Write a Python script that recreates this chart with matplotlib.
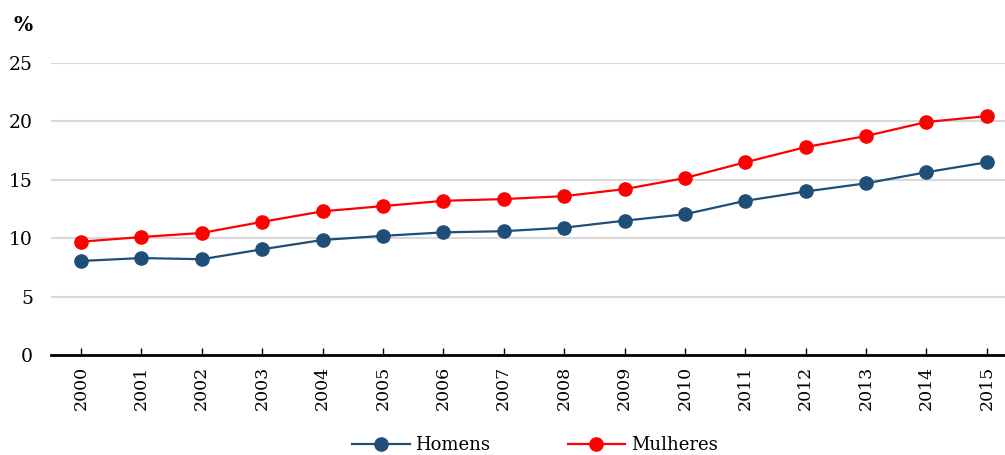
import matplotlib
matplotlib.use("Agg")
import matplotlib.pyplot as plt

years = ["2000", "2001", "2002", "2003", "2004", "2005", "2006", "2007",
         "2008", "2009", "2010", "2011", "2012", "2013", "2014", "2015"]
homens = [8.05, 8.3, 8.2, 9.05, 9.85, 10.2, 10.5, 10.6, 10.9, 11.5, 12.05,
          13.2, 14.0, 14.7, 15.65, 16.5]
mulheres = [9.7, 10.1, 10.45, 11.4, 12.3, 12.75, 13.2, 13.35, 13.6, 14.2,
            15.15, 16.5, 17.8, 18.75, 19.95, 20.45]
yticks = [0, 5, 10, 15, 20, 25]

plt.rcParams['font.family'] = ['DejaVu Serif']

W, H = 1005, 455
fig = plt.figure(figsize=(W / 100, H / 100), dpi=100)
left, right, bottom, top = 51, 1005, 355, 63
ax = fig.add_axes([left / W, 1 - bottom / H, (right - left) / W, (bottom - top) / H])

x = list(range(len(years)))
ax.plot(x, homens, color='#1F4E79', lw=1.6, marker='o', ms=9.5, label='Homens', zorder=3)
ax.plot(x, mulheres, color='#FF0000', lw=1.6, marker='o', ms=9.5, label='Mulheres', zorder=3)

ax.set_xlim(-0.497, 15.3)
ax.set_ylim(0, 25)
ax.set_yticks(yticks)
ax.set_yticklabels([str(v) for v in yticks], fontsize=13.5)
ax.set_xticks(x)
ax.set_xticklabels(years, rotation=90, fontsize=12.5)
ax.yaxis.grid(True, color='#D9D9D9', lw=1.5)
ax.set_axisbelow(True)
for s in ['top', 'right', 'left']:
    ax.spines[s].set_visible(False)
ax.spines['bottom'].set_linewidth(2)
ax.spines['bottom'].set_color('black')
ax.spines['bottom'].set_zorder(2.5)
ax.tick_params(axis='y', length=0, pad=13)
ax.tick_params(axis='x', direction='in', length=5, width=1, pad=8)

fig.text(23 / W, 1 - 25 / H, '%', fontsize=14.5, fontweight='bold', ha='center', va='center')

leg = fig.legend(loc='center', bbox_to_anchor=(0.532, 1 - 445 / H), ncol=2, frameon=False,
                 fontsize=13, handlelength=3.2, columnspacing=4.3, handletextpad=0.3)

fig.savefig('out.png', dpi=100)
